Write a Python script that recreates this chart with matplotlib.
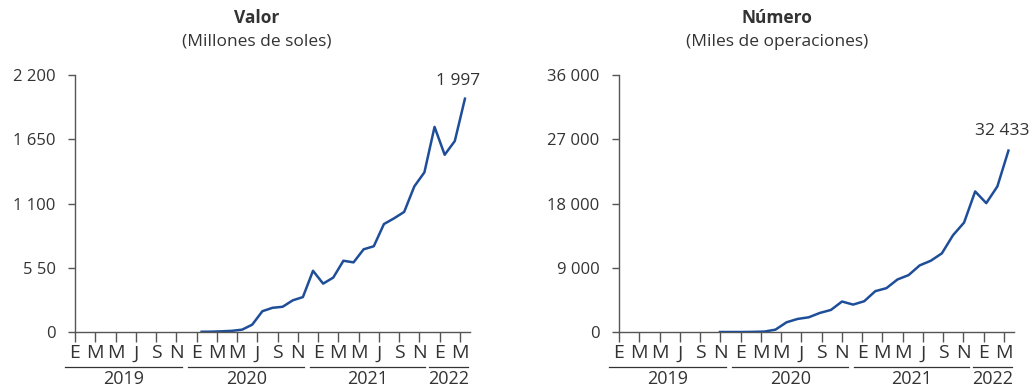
import matplotlib
matplotlib.use("Agg")
import matplotlib.pyplot as plt
import matplotlib.transforms as mtransforms

plt.rcParams['font.family'] = ['Open Sans', 'DejaVu Sans']

# months Jan 2019 .. Mar 2022 on the axis (39 months)
n_months = 39
month_letters = ["E", "M", "M", "J", "S", "N"] * 3 + ["E", "M"]
years = ["2019", "2020", "2021", "2022"]

# Valor (millones de soles), Jan 2020 .. Mar 2022
valor = [2, 3, 6, 10, 20, 63, 178, 207, 216, 271, 299, 524,
         414, 466, 610, 596, 708, 734, 924, 973, 1028, 1246, 1367, 1756,
         1517, 1635, 1997]
valor_start = 12  # month index of Jan 2020

# Numero (miles de operaciones), Jan 2020 .. Mar 2022 (as drawn)
numero = [0, 0, 0, 20, 60, 330, 1360, 1830, 2060, 2670, 3090, 4270,
          3840, 4310, 5720, 6140, 7360, 7970, 9330, 9980, 11020, 13550, 15330, 19690,
          18050, 20390, 25410]

valor_ticks = [0, 550, 1100, 1650, 2200]
valor_ticklabels = ["0", "5 50", "1 100", "1 650", "2 200"]
numero_ticks = [0, 9000, 18000, 27000, 36000]
numero_ticklabels = ["0", "9 000", "18 000", "27 000", "36 000"]

line_color = "#1f4e99"
text_color = "#333333"
axis_color = "#555555"

fig = plt.figure(figsize=(10.29, 3.89), dpi=100)
W, H = 1029, 389


def make_axes(x0, x1):
    ax = fig.add_axes([x0 / W, (H - 332) / H, (x1 - x0) / W, (332 - 75) / H])
    for s in ["top", "right"]:
        ax.spines[s].set_visible(False)
    for s in ["left", "bottom"]:
        ax.spines[s].set_color(axis_color)
        ax.spines[s].set_linewidth(1.0)
    ax.set_xlim(0, n_months)
    ax.set_xticks(range(0, n_months, 2))
    ax.set_xticklabels(month_letters)
    ax.tick_params(axis="x", length=7, width=1, color=axis_color, pad=2,
                   labelsize=14, labelcolor=text_color)
    ax.tick_params(axis="y", length=5, width=1, color=axis_color, pad=9,
                   labelsize=12, labelcolor=text_color)
    # year groups with rules under month letters
    trans = mtransforms.blended_transform_factory(ax.transData, ax.transAxes)
    spans = [(-1.0, 10.6), (11.2, 22.6), (23.2, 34.6), (35.0, 38.8)]
    for (a, b), yr in zip(spans, years):
        ax.plot([a, b], [-0.137, -0.137], transform=trans, color=text_color,
                lw=0.9, clip_on=False)
        ax.text((a + b) / 2, -0.183, yr, transform=trans, ha="center", va="center",
                fontsize=13, color=text_color)
    return ax


# left panel
ax1 = make_axes(75, 470)
ax1.plot([valor_start + i + 0.5 for i in range(len(valor))], valor,
         color=line_color, lw=1.8)
ax1.set_ylim(0, 2200)
ax1.set_yticks(valor_ticks)
ax1.set_yticklabels(valor_ticklabels)
ax1.annotate("1 997", xy=(valor_start + len(valor) - 0.5, valor[-1]),
             xytext=(-5, 13), textcoords="offset points", ha="center",
             va="center", fontsize=12.5, color=text_color)

# right panel
ax2 = make_axes(619, 1014)
ax2.set_ylim(0, 36000)
ax2.set_yticks(numero_ticks)
ax2.set_yticklabels(numero_ticklabels)
# series is drawn on its own x scale (as in the original chart)
ax2b = ax2.twiny()
ax2b.set_xlim(-9.1, 26.5)
ax2b.set_ylim(0, 36000)
ax2b.axis("off")
ax2b.plot(range(len(numero)), numero, color=line_color, lw=1.8)
ax2b.annotate("32 433", xy=(len(numero) - 1, numero[-1]),
              xytext=(-4.5, 14), textcoords="offset points", ha="center",
              va="center", fontsize=12.5, color=text_color)

# titles
fig.text(257 / W, 1 - 18 / H, "Valor", ha="center", va="center",
         fontsize=12.5, fontweight="bold", color=text_color)
fig.text(257 / W, 1 - 42 / H, "(Millones de soles)", ha="center", va="center",
         fontsize=12.5, color=text_color)
fig.text(777 / W, 1 - 18 / H, "Número", ha="center", va="center",
         fontsize=12.5, fontweight="bold", color=text_color)
fig.text(777 / W, 1 - 42 / H, "(Miles de operaciones)", ha="center", va="center",
         fontsize=12.5, color=text_color)

fig.savefig("out.png", dpi=100)
